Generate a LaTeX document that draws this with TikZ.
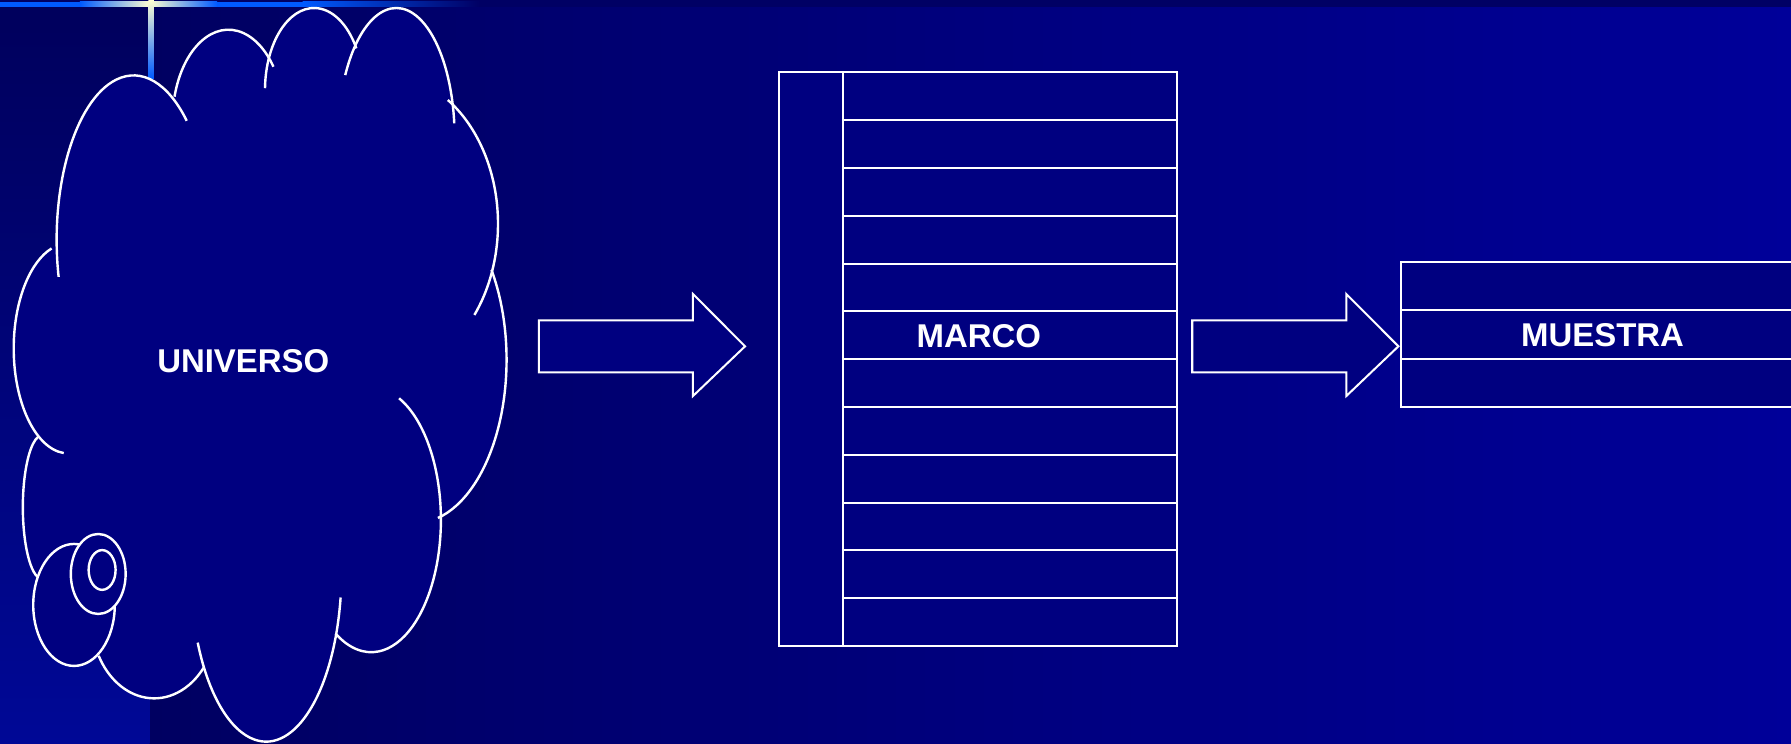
\documentclass[tikz,border=0pt]{standalone}
\usepackage{fontspec}
\setmainfont{Liberation Sans}

\definecolor{bgleft}{RGB}{0,0,92}
\definecolor{bgright}{RGB}{0,0,153}
\definecolor{stripblue}{RGB}{0,8,150}
\definecolor{cloudfill}{RGB}{0,0,128}
\definecolor{topband}{RGB}{0,0,100}
\definecolor{barblue}{RGB}{0,90,255}
\definecolor{barcream}{RGB}{255,255,210}

% bumps of the cloud: centre x/centre y/x radius/y radius/start/end
\newcommand{\cloudbumps}{117/210/67.4/144/167/313.6, 200/106/49/80/195.5/323.5,
  275/79/43/72/181.4/329.4, 347/120/51/113/208.7/353.9, 336/196/100/131/304.1/397.5,
  363.5/315/80/143/326.6/435.6, 325/455/61/116/293.6/480.9, 233/500/66/149.3/8.9/155.2,
  135/541.4/55/70/38/152.1, 37/444/17/63/104.5/258, 60/305/48/92/95/252}

\begin{document}
\begin{tikzpicture}[x = 0.01cm, y = -0.01cm,
  cloudline/.style = {draw = white, line width = 0.6pt},
  boxline/.style = {draw = white, line width = 0.5pt, fill = cloudfill},
  boxtext/.style = {text = white, inner sep = 0pt,
    font = \bfseries\fontsize{8.2}{9}\selectfont}]

  % background
  \clip (0,0) rectangle (1568,651);
  \shade[left color = bgleft, right color = bgright] (0,0) rectangle (1568,651);
  \shade[top color = bgleft, bottom color = stripblue] (0,0) rectangle (131,651);

  % bars of the slide
  \fill[topband] (0,0) rectangle (1568,5.8);
  \fill[barblue] (0,1.5) rectangle (70,5.8);
  \shade[left color = barblue, right color = barcream] (70,1.5) rectangle (131,5.8);
  \shade[left color = barcream, right color = barblue] (131,1.5) rectangle (190,5.8);
  \fill[barblue] (190,1.5) rectangle (265,5.8);
  \shade[left color = barblue, right color = topband] (265,1.5) rectangle (420,5.8);
  \shade[top color = barcream, bottom color = barblue] (129.9,0) rectangle (134.8,68.6);

  % cloud
  \foreach \cx/\cy/\rx/\ry/\a/\b in \cloudbumps
    \fill[cloudfill] (\cx,\cy) ellipse [x radius = \rx, y radius = \ry];
  \fill[cloudfill] (49.8,221) -- (151,85) -- (236,57) -- (310,42) -- (395,88) -- (431,236)
    -- (386,453) -- (295,554) -- (178,585) -- (86,573) -- (33,505) -- (34,383) -- cycle;
  \foreach \cx/\cy/\rx/\ry/\a/\b in \cloudbumps
    \draw[cloudline] ({\cx+\rx*cos(\a)},{\cy+\ry*sin(\a)})
      arc [start angle = \a, end angle = \b, x radius = \rx, y radius = \ry];

  \draw[cloudline, fill = cloudfill] (64.8,529.6) ellipse [x radius = 35.7, y radius = 53.4];
  \draw[cloudline, fill = cloudfill] (86,502.5) ellipse [x radius = 24, y radius = 35];
  \draw[cloudline] (89.4,499) ellipse [x radius = 11.8, y radius = 17.4];

  \node[boxtext] (universo) at (213,316.5) {UNIVERSO};

  % arrows
  \foreach \dx in {0,572}
    \draw[boxline, shift = {(\dx,0)}] (471.8,280.5) -- (606.7,280.5) -- (606.7,257.4)
      -- (652.3,303.2) -- (606.7,346.7) -- (606.7,326) -- (471.8,326) -- cycle;

  % marco
  \draw[boxline] (682,63.3) rectangle (737.8,565.6);
  \foreach \i in {0,...,11}
    \draw[boxline] (737.8,63.3+41.86*\i) rectangle ++(292.7,41.86);
  \node[boxtext] (marco) at (857,294) {MARCO};

  % muestra
  \foreach \i in {0,1,2}
    \draw[boxline] (1226.6,229.7+42.1*\i) rectangle ++(400,42.1);
  \node[boxtext] (muestra) at (1403,293) {MUESTRA};
\end{tikzpicture}
\end{document}
